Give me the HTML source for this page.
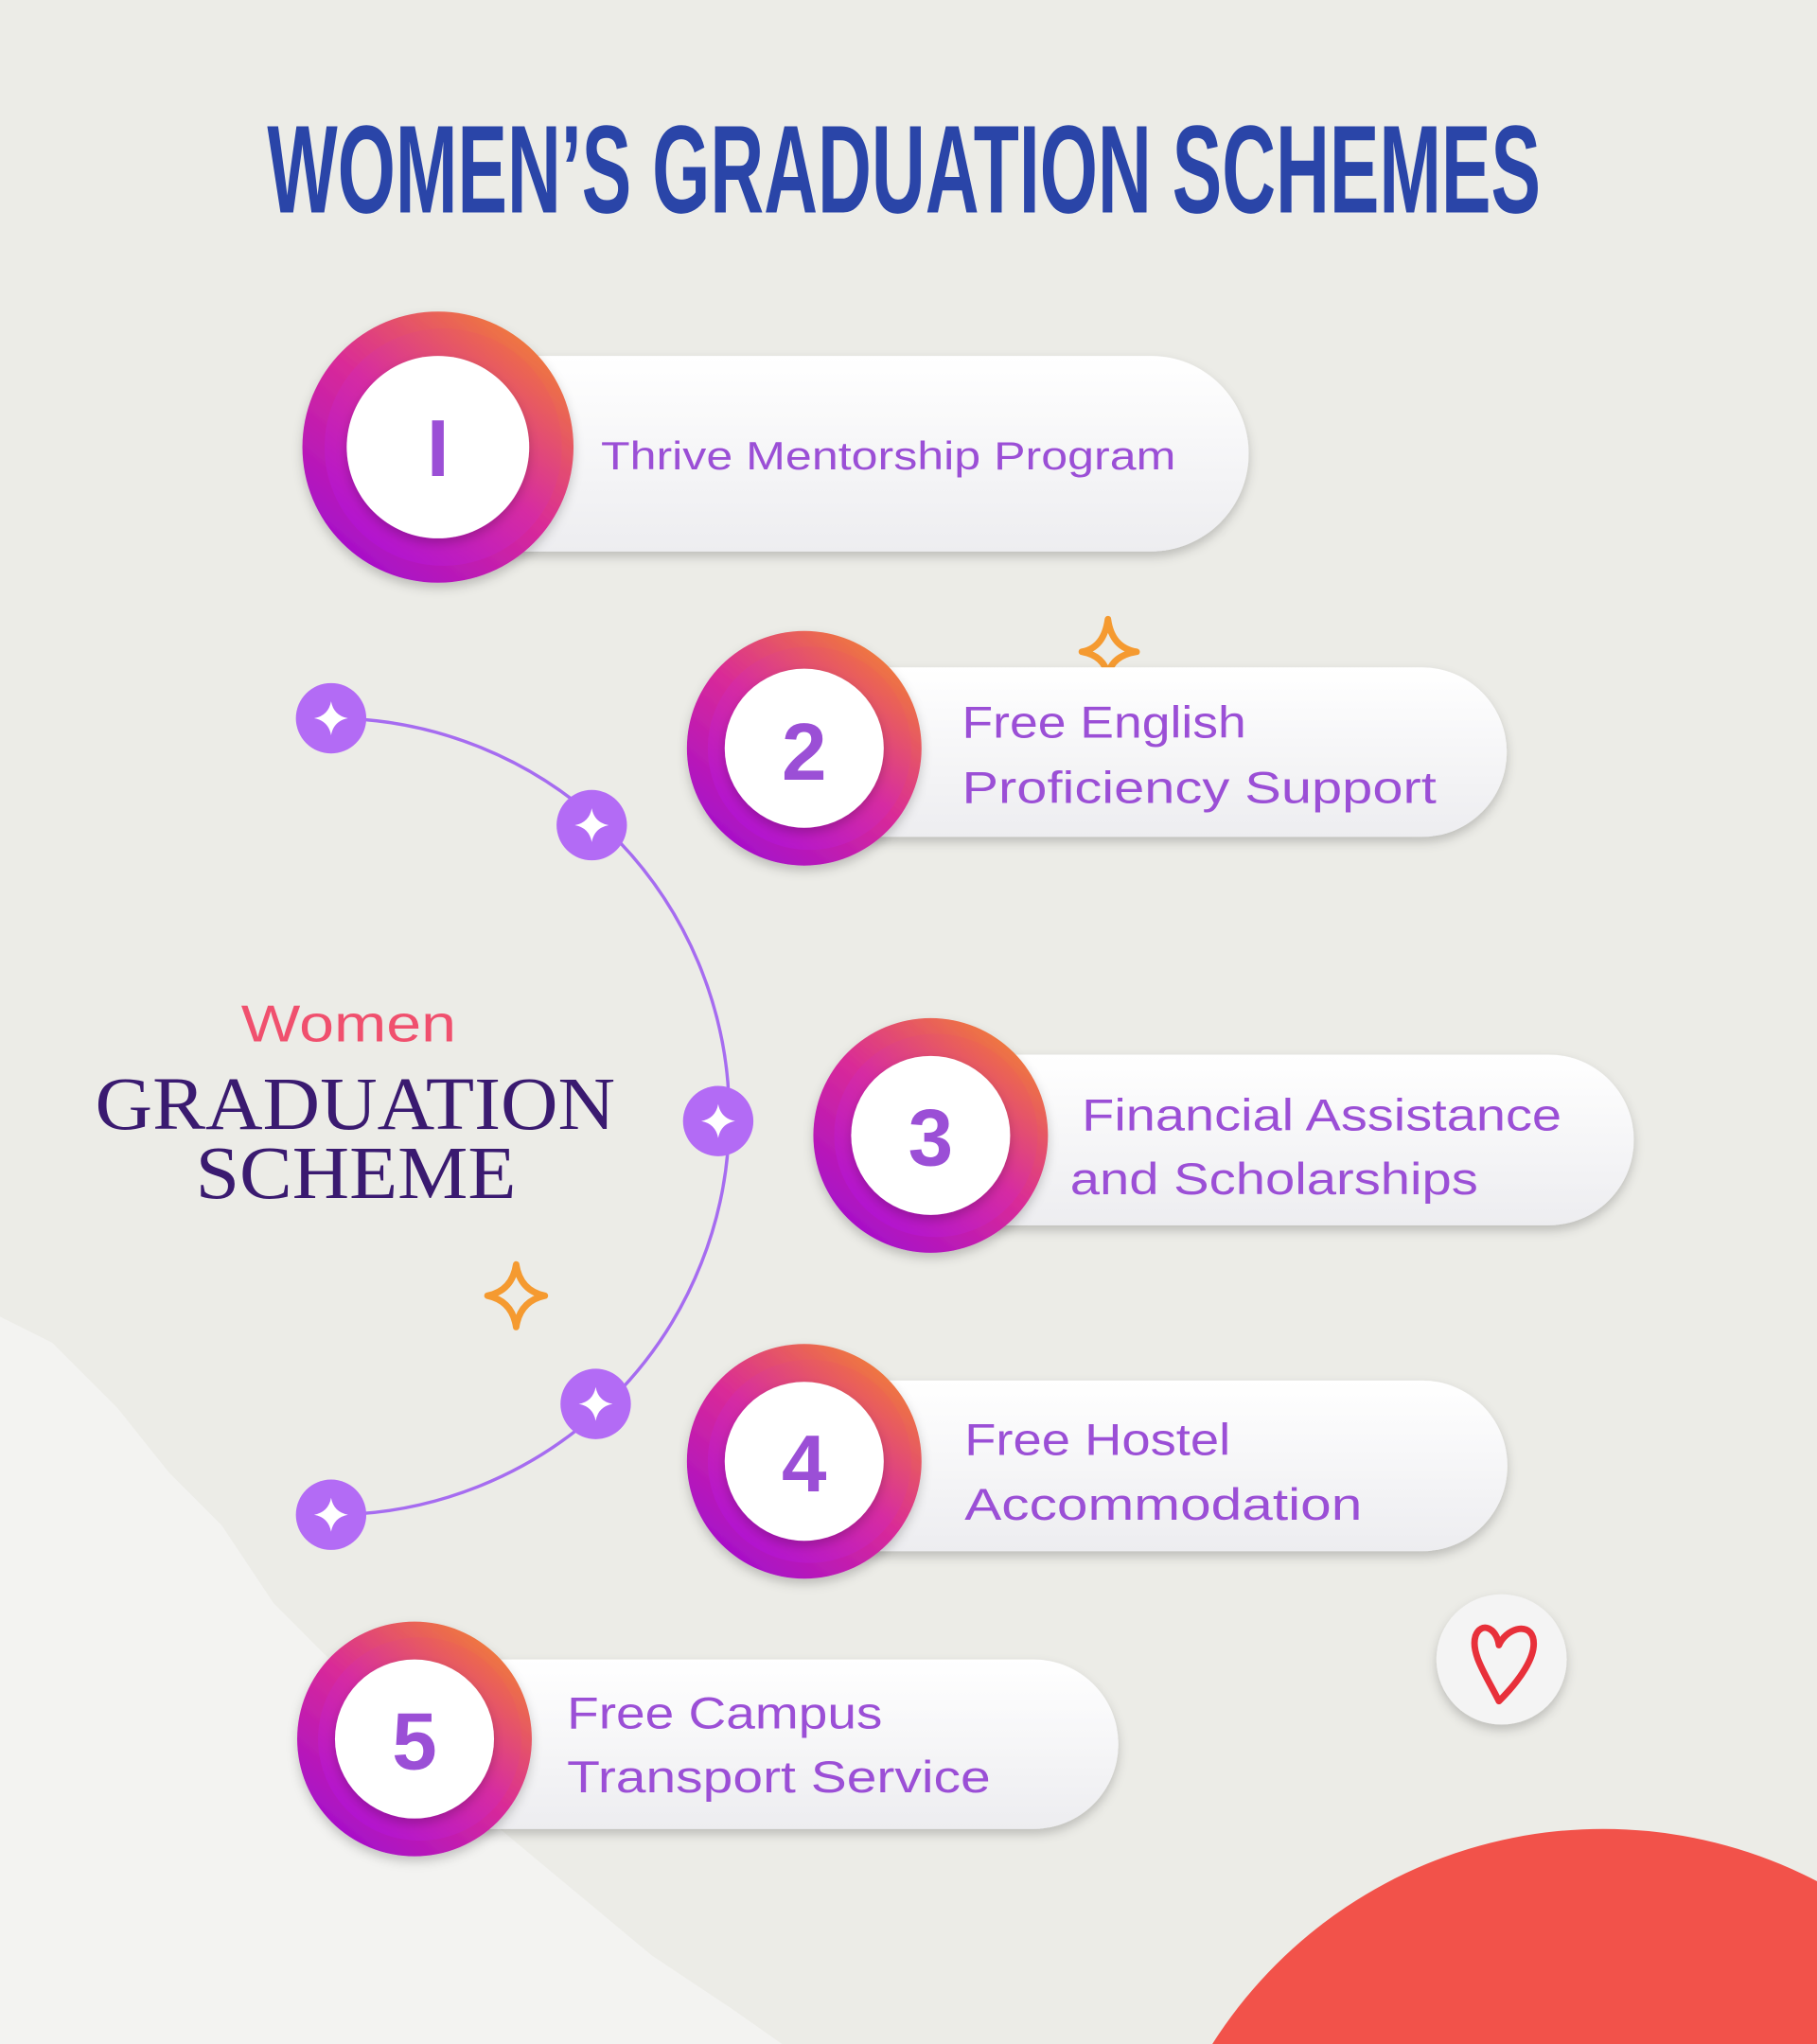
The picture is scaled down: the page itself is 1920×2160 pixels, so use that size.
<!DOCTYPE html>
<html><head><meta charset="utf-8">
<style>
html,body{margin:0;padding:0;width:1920px;height:2160px;overflow:hidden;background:#ecece7;}
svg{display:block;position:absolute;left:0;top:0;}
</style></head><body>
<svg width="1920" height="2160" viewBox="0 0 1394 1568" preserveAspectRatio="none" xmlns="http://www.w3.org/2000/svg">
<defs>
<linearGradient id="g" x1="0.85" y1="0.1" x2="0.2" y2="0.9">
<stop offset="0" stop-color="#f07a3c"/><stop offset="0.5" stop-color="#d92a98"/><stop offset="1" stop-color="#a810c8"/>
</linearGradient>
<linearGradient id="g2" x1="0.85" y1="0.1" x2="0.2" y2="0.9">
<stop offset="0" stop-color="#ee6c48"/><stop offset="0.5" stop-color="#d62ba2"/><stop offset="1" stop-color="#b214cf"/>
</linearGradient>
<linearGradient id="pill" x1="0" y1="0" x2="0" y2="1">
<stop offset="0" stop-color="#ffffff"/><stop offset="1" stop-color="#ededf0"/>
</linearGradient>
<filter id="sh" x="-20%" y="-20%" width="140%" height="150%"><feDropShadow dx="0" dy="4" stdDeviation="4" flood-color="#000" flood-opacity="0.2"/></filter>
<g id="star"><path d="M0,-13 Q2,-2 13,0 Q2,2 0,13 Q-2,2 -13,0 Q-2,-2 0,-13Z" fill="#fff"/></g>
</defs>
<rect width="1394" height="1568" fill="#ecece7"/>
<polygon points="0,1010 40,1030 90,1080 130,1130 170,1170 210,1230 260,1280 320,1330 380,1400 440,1450 500,1500 560,1540 600,1568 0,1568" fill="#f3f3f1"/>
<circle cx="1230" cy="1758" r="355" fill="#f2524a"/>
<text x="205" y="163" textLength="977" lengthAdjust="spacingAndGlyphs" font-family="Liberation Sans Narrow, Liberation Sans, sans-serif" font-weight="bold" font-size="96" fill="#2a45a8">WOMEN’S GRADUATION SCHEMES</text>

<path d="M254,551 A305,305 0 0 1 254,1162" fill="none" stroke="#a66cf0" stroke-width="2.5"/>
<g fill="#b36bf5">
<circle cx="254" cy="551" r="27"/><circle cx="454" cy="633" r="27"/><circle cx="551" cy="860" r="27"/><circle cx="457" cy="1077" r="27"/><circle cx="254" cy="1162" r="27"/>
</g>
<use href="#star" x="254" y="551"/><use href="#star" x="454" y="633"/><use href="#star" x="551" y="860"/><use href="#star" x="457" y="1077"/><use href="#star" x="254" y="1162"/>

<text x="185" y="799" textLength="165" lengthAdjust="spacingAndGlyphs" font-family="Liberation Sans, sans-serif" font-size="40" fill="#f0506e">Women</text>
<text x="73" y="866" textLength="399" lengthAdjust="spacingAndGlyphs" font-family="Liberation Serif, serif" font-size="58" fill="#3a1a70">GRADUATION</text>
<text x="150" y="919" textLength="246" lengthAdjust="spacingAndGlyphs" font-family="Liberation Serif, serif" font-size="58" fill="#3a1a70">SCHEME</text>

<path d="M850,475 Q853,497 872,500 Q853,503 850,518 Q847,503 830,500 Q847,497 850,475Z" fill="none" stroke="#f59a30" stroke-width="5" stroke-linejoin="round"/>
<path d="M396,970 Q399,990 418,994 Q399,998 396,1018 Q393,998 374,994 Q393,990 396,970Z" fill="none" stroke="#f59a30" stroke-width="5" stroke-linejoin="round"/>

<circle cx="1152" cy="1273" r="50" fill="#f4f4f4" filter="url(#sh)"/>
<path d="M1150,1305 C1140,1285 1128,1268 1132,1255 C1136,1244 1148,1248 1150,1262 C1155,1250 1172,1244 1176,1256 C1180,1270 1165,1290 1150,1305Z" fill="none" stroke="#e8303a" stroke-width="5" stroke-linejoin="round"/>

<g font-family="Liberation Sans, sans-serif" fill="#9b4fd6">
<path d="M336,273 H883 A75,75 0 0 1 883,423 H336Z" fill="url(#pill)" filter="url(#sh)"/>
<circle cx="336" cy="343" r="104" fill="url(#g)" filter="url(#sh)"/>
<circle cx="340" cy="343" r="91" fill="url(#g2)"/>
<circle cx="336" cy="343" r="70" fill="#fff" filter="url(#sh)"/>
<text x="336" y="365" text-anchor="middle" font-weight="bold" font-size="62" fill="#9b4fd6">I</text>
<text x="461" y="360" textLength="441" lengthAdjust="spacingAndGlyphs" font-size="30">Thrive Mentorship Program</text>

<path d="M617,512 H1091 A65,65 0 0 1 1091,642 H617Z" fill="url(#pill)" filter="url(#sh)"/>
<circle cx="617" cy="574" r="90" fill="url(#g)" filter="url(#sh)"/>
<circle cx="621" cy="574" r="78" fill="url(#g2)"/>
<circle cx="617" cy="574" r="61" fill="#fff" filter="url(#sh)"/>
<text x="617" y="598" text-anchor="middle" font-weight="bold" font-size="62">2</text>
<text x="738" y="566" textLength="218" lengthAdjust="spacingAndGlyphs" font-size="34">Free English</text>
<text x="738" y="616" textLength="364" lengthAdjust="spacingAndGlyphs" font-size="34">Proficiency Support</text>

<path d="M714,809 H1188 A65,65 0 0 1 1188,940 H714Z" fill="url(#pill)" filter="url(#sh)"/>
<circle cx="714" cy="871" r="90" fill="url(#g)" filter="url(#sh)"/>
<circle cx="718" cy="871" r="78" fill="url(#g2)"/>
<circle cx="714" cy="871" r="61" fill="#fff" filter="url(#sh)"/>
<text x="714" y="894" text-anchor="middle" font-weight="bold" font-size="62">3</text>
<text x="830" y="867" textLength="368" lengthAdjust="spacingAndGlyphs" font-size="34">Financial Assistance</text>
<text x="821" y="916" textLength="313" lengthAdjust="spacingAndGlyphs" font-size="34">and Scholarships</text>

<path d="M617,1059 H1091 A65,65 0 0 1 1091,1190 H617Z" fill="url(#pill)" filter="url(#sh)"/>
<circle cx="617" cy="1121" r="90" fill="url(#g)" filter="url(#sh)"/>
<circle cx="621" cy="1121" r="78" fill="url(#g2)"/>
<circle cx="617" cy="1121" r="61" fill="#fff" filter="url(#sh)"/>
<text x="617" y="1144" text-anchor="middle" font-weight="bold" font-size="62">4</text>
<text x="740" y="1116" textLength="204" lengthAdjust="spacingAndGlyphs" font-size="34">Free Hostel</text>
<text x="740" y="1166" textLength="305" lengthAdjust="spacingAndGlyphs" font-size="34">Accommodation</text>

<path d="M318,1273 H793 A65,65 0 0 1 793,1403 H318Z" fill="url(#pill)" filter="url(#sh)"/>
<circle cx="318" cy="1334" r="90" fill="url(#g)" filter="url(#sh)"/>
<circle cx="322" cy="1334" r="78" fill="url(#g2)"/>
<circle cx="318" cy="1334" r="61" fill="#fff" filter="url(#sh)"/>
<text x="318" y="1357" text-anchor="middle" font-weight="bold" font-size="62">5</text>
<text x="435" y="1326" textLength="242" lengthAdjust="spacingAndGlyphs" font-size="34">Free Campus</text>
<text x="435" y="1375" textLength="325" lengthAdjust="spacingAndGlyphs" font-size="34">Transport Service</text>
</g>
</svg>
</body></html>
